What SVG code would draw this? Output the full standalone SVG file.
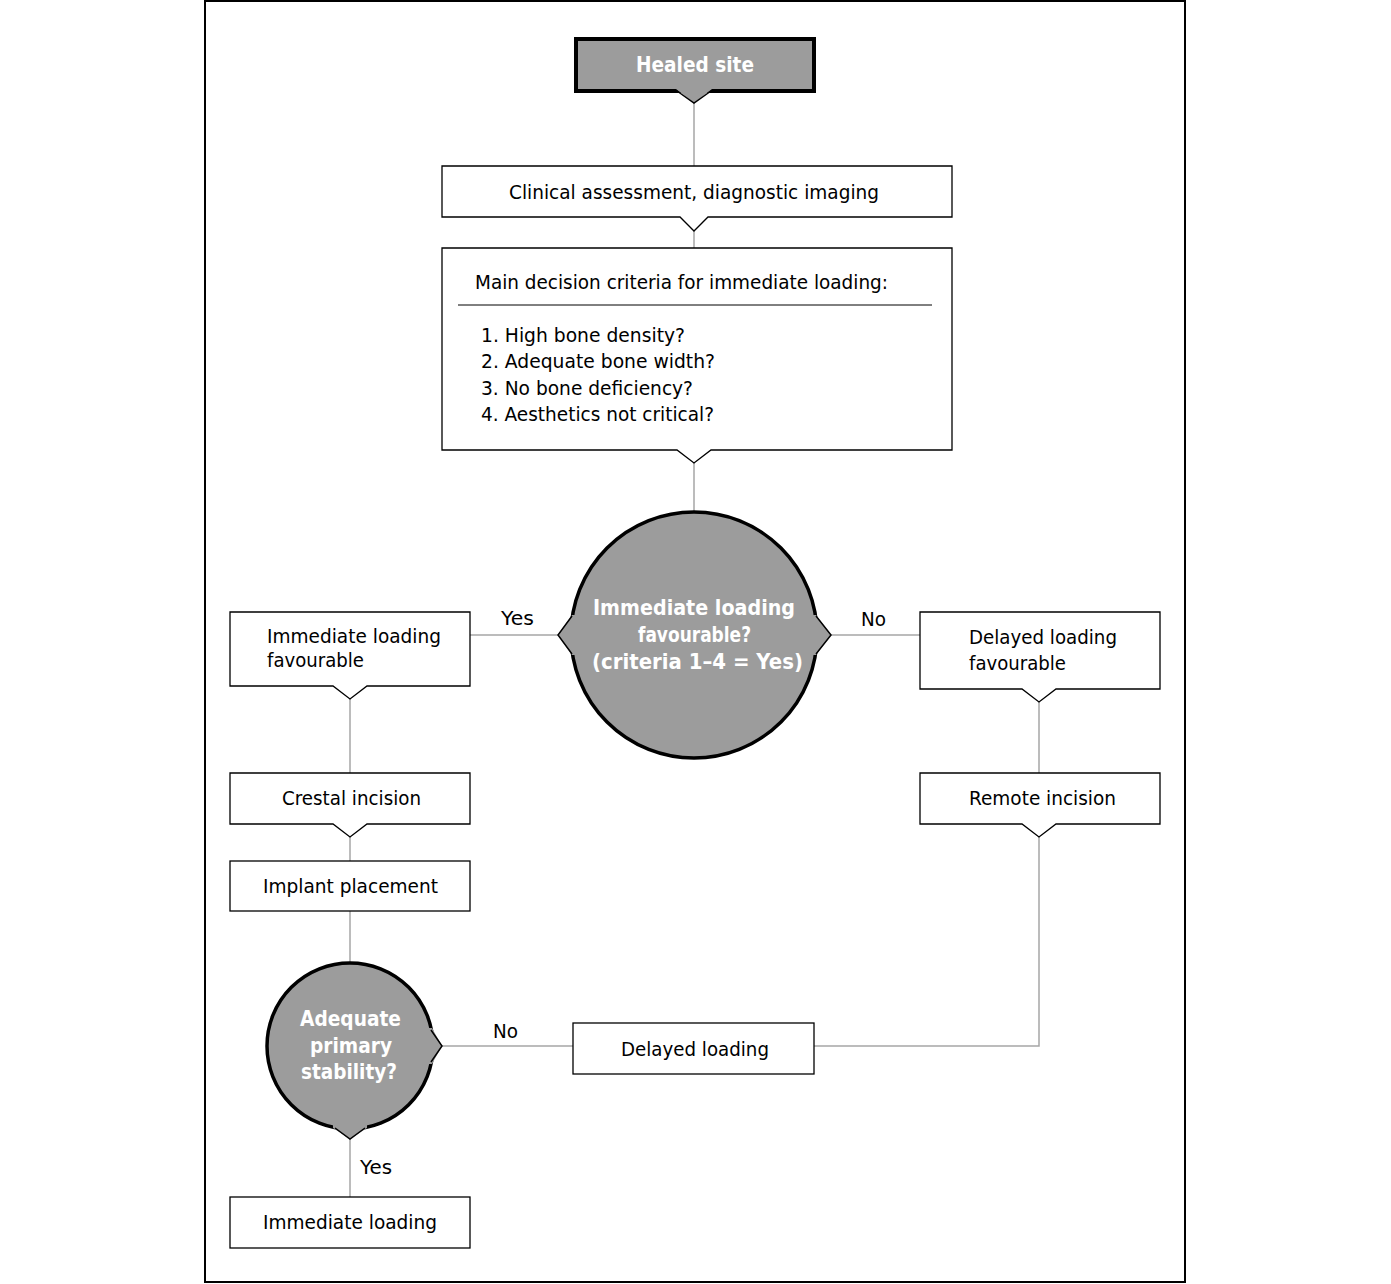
<svg xmlns="http://www.w3.org/2000/svg" width="1391" height="1284" viewBox="0 0 1391 1284">
<style>
.box{fill:#fff;stroke:#000;stroke-width:1.3}
.gbox{fill:#9c9c9c;stroke:#000;stroke-width:4}
.circ{fill:#9c9c9c;stroke:#000;stroke-width:3.5}
.gfill{fill:#9c9c9c;stroke:none}
.notch{fill:none;stroke:#000;stroke-width:1.5}
.conn{fill:none;stroke:#a6a6a6;stroke-width:1.5}
.t{font-family:"DejaVu Sans","Liberation Sans",sans-serif;font-size:20px;fill:#000}
.b{font-family:"DejaVu Sans","Liberation Sans",sans-serif;font-size:21px;font-weight:bold;fill:#fff}
</style>
<rect x="0" y="0" width="1391" height="1284" fill="#fff"/>
<rect x="205" y="1" width="980" height="1281" fill="none" stroke="#000" stroke-width="2"/>

<g id="connectors">
<line class="conn" x1="694" y1="103" x2="694" y2="166"/>
<line class="conn" x1="694" y1="231" x2="694" y2="248"/>
<line class="conn" x1="694" y1="463" x2="694" y2="512"/>
<line class="conn" x1="470" y1="635" x2="558" y2="635"/>
<line class="conn" x1="831" y1="635" x2="920" y2="635"/>
<line class="conn" x1="350" y1="699" x2="350" y2="773"/>
<line class="conn" x1="350" y1="837" x2="350" y2="861"/>
<line class="conn" x1="350" y1="911" x2="350" y2="963"/>
<line class="conn" x1="1039" y1="702" x2="1039" y2="773"/>
<polyline class="conn" points="1039,837 1039,1046 814,1046"/>
<line class="conn" x1="442" y1="1046" x2="573" y2="1046"/>
<line class="conn" x1="350" y1="1139" x2="350" y2="1197"/>
<text class="t" x="501" y="625" textLength="33" lengthAdjust="spacingAndGlyphs">Yes</text>
<text class="t" x="861" y="626" textLength="25" lengthAdjust="spacingAndGlyphs">No</text>
<text class="t" x="493" y="1038" textLength="25" lengthAdjust="spacingAndGlyphs">No</text>
<text class="t" x="360" y="1174" textLength="32" lengthAdjust="spacingAndGlyphs">Yes</text>
</g>

<g id="n-healed">
<path class="gbox" d="M576,39 H814 V91 H576 Z"/>
<polygon class="gfill" points="676,89 694,103 712,89"/>
<polyline class="notch" points="677,91 694,103 711,91"/>
<text class="b" x="636" y="72" textLength="118" lengthAdjust="spacingAndGlyphs">Healed site</text>
</g>

<g id="n-clinical">
<path class="box" d="M442,166 H952 V217 H708 L694,231 L680,217 H442 Z"/>
<text class="t" x="509" y="199" textLength="370" lengthAdjust="spacingAndGlyphs">Clinical assessment, diagnostic imaging</text>
</g>

<g id="n-criteria">
<path class="box" d="M442,248 H952 V450 H711 L694,463 L677,450 H442 Z"/>
<text class="t" x="475" y="289" textLength="413" lengthAdjust="spacingAndGlyphs">Main decision criteria for immediate loading:</text>
<line x1="458" y1="305" x2="932" y2="305" stroke="#000" stroke-width="1"/>
<text class="t" x="481" y="342" textLength="204" lengthAdjust="spacingAndGlyphs">1. High bone density?</text>
<text class="t" x="481" y="368" textLength="234" lengthAdjust="spacingAndGlyphs">2. Adequate bone width?</text>
<text class="t" x="481" y="395" textLength="212" lengthAdjust="spacingAndGlyphs">3. No bone deficiency?</text>
<text class="t" x="481" y="421" textLength="233" lengthAdjust="spacingAndGlyphs">4. Aesthetics not critical?</text>
</g>

<g id="n-decision1">
<circle class="circ" cx="694" cy="635" r="123"/>
<polygon class="gfill" points="580,615 572,615 558,635 572,655 580,655"/>
<polyline class="notch" points="572,616 558,635 572,654"/>
<polygon class="gfill" points="808,615 816,615 831,635 816,655 808,655"/>
<polyline class="notch" points="816,616 831,635 816,654"/>
<text class="b" x="593" y="615" textLength="202" lengthAdjust="spacingAndGlyphs">Immediate loading</text>
<text class="b" x="638" y="642" textLength="113" lengthAdjust="spacingAndGlyphs">favourable?</text>
<text class="b" x="592" y="669" textLength="211" lengthAdjust="spacingAndGlyphs">(criteria 1–4 = Yes)</text>
</g>

<g id="n-imm-fav">
<path class="box" d="M230,612 H470 V686 H367 L350,699 L333,686 H230 Z"/>
<text class="t" x="267" y="643" textLength="174" lengthAdjust="spacingAndGlyphs">Immediate loading</text>
<text class="t" x="267" y="667" textLength="97" lengthAdjust="spacingAndGlyphs">favourable</text>
</g>

<g id="n-del-fav">
<path class="box" d="M920,612 H1160 V689 H1056 L1039,702 L1022,689 H920 Z"/>
<text class="t" x="969" y="644" textLength="148" lengthAdjust="spacingAndGlyphs">Delayed loading</text>
<text class="t" x="969" y="670" textLength="97" lengthAdjust="spacingAndGlyphs">favourable</text>
</g>

<g id="n-crestal">
<path class="box" d="M230,773 H470 V824 H367 L350,837 L333,824 H230 Z"/>
<text class="t" x="282" y="805" textLength="139" lengthAdjust="spacingAndGlyphs">Crestal incision</text>
</g>

<g id="n-remote">
<path class="box" d="M920,773 H1160 V824 H1056 L1039,837 L1022,824 H920 Z"/>
<text class="t" x="969" y="805" textLength="147" lengthAdjust="spacingAndGlyphs">Remote incision</text>
</g>

<g id="n-implant">
<rect class="box" x="230" y="861" width="240" height="50"/>
<text class="t" x="263" y="893" textLength="175" lengthAdjust="spacingAndGlyphs">Implant placement</text>
</g>

<g id="n-decision2">
<circle class="circ" cx="350" cy="1046" r="83"/>
<polygon class="gfill" points="424,1028 432,1028 442,1046 432,1064 424,1064"/>
<polyline class="notch" points="431,1030 442,1046 431,1062"/>
<polygon class="gfill" points="333,1120 333,1128 350,1139 367,1128 367,1120"/>
<polyline class="notch" points="335,1128 350,1139 365,1128"/>
<text class="b" x="300" y="1026" textLength="101" lengthAdjust="spacingAndGlyphs">Adequate</text>
<text class="b" x="310" y="1053" textLength="82" lengthAdjust="spacingAndGlyphs">primary</text>
<text class="b" x="301" y="1079" textLength="96" lengthAdjust="spacingAndGlyphs">stability?</text>
</g>

<g id="n-delayed">
<rect class="box" x="573" y="1023" width="241" height="51"/>
<text class="t" x="621" y="1056" textLength="148" lengthAdjust="spacingAndGlyphs">Delayed loading</text>
</g>

<g id="n-immediate">
<rect class="box" x="230" y="1197" width="240" height="51"/>
<text class="t" x="263" y="1229" textLength="174" lengthAdjust="spacingAndGlyphs">Immediate loading</text>
</g>
</svg>
